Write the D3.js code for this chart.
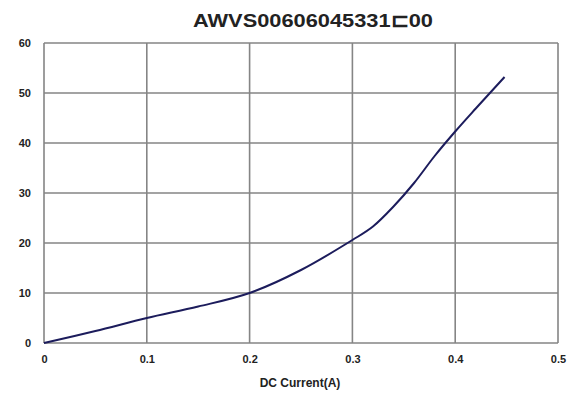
<!DOCTYPE html>
<html>
<head>
<meta charset="utf-8">
<script src="https://cdn.jsdelivr.net/npm/d3@7"></script>
<style>
  body { margin: 0; background: #fff; }
  text { font-family: "Liberation Sans", Arial, sans-serif; fill: #222; }
</style>
</head>
<body>
<div id="chart"></div>
<script>
// dimensions de la page
const width = 574;
const height = 403;

// données
const current = [0, 0.05, 0.1, 0.15, 0.2, 0.25, 0.3, 0.32, 0.34, 0.36, 0.38, 0.4, 0.42, 0.448];
const value = [0, 2.4, 5.0, 7.3, 10, 14.6, 20.6, 23.3, 27.3, 32.0, 37.4, 42.3, 46.9, 53.2];
const xTicks = [0, 0.1, 0.2, 0.3, 0.4, 0.5];
const yTicks = [0, 10, 20, 30, 40, 50, 60];
const title = "AWVS00606045331\u228F00";
const xTitle = "DC Current(A)";

const margin = { left: 44, right: 16, top: 43, bottom: 60 };

const x = d3.scaleLinear().domain([0, 0.5]).range([margin.left, width - margin.right]);
const y = d3.scaleLinear().domain([0, 60]).range([height - margin.bottom, margin.top]);

const svg = d3.select("#chart").append("svg")
    .attr("width", width)
    .attr("height", height);

// grille
svg.append("g")
    .selectAll("line")
    .data(xTicks)
    .join("line")
    .attr("x1", d => x(d)).attr("x2", d => x(d))
    .attr("y1", y(0)).attr("y2", y(60))
    .attr("stroke", "#858585").attr("stroke-width", 1.6);

svg.append("g")
    .selectAll("line")
    .data(yTicks)
    .join("line")
    .attr("x1", x(0)).attr("x2", x(0.5))
    .attr("y1", d => y(d)).attr("y2", d => y(d))
    .attr("stroke", "#858585").attr("stroke-width", 1.6);

// axes (labels seulement)
const xAxis = svg.append("g")
    .attr("transform", `translate(0,${y(0)})`)
    .call(d3.axisBottom(x).tickValues(xTicks).tickSize(0).tickPadding(12).tickFormat(d3.format("")));
xAxis.select(".domain").remove();
xAxis.selectAll("text").attr("font-size", 11).attr("font-weight", "bold").style("fill", "#222");

const yAxis = svg.append("g")
    .attr("transform", `translate(${x(0)},0)`)
    .call(d3.axisLeft(y).tickValues(yTicks).tickSize(0).tickPadding(13));
yAxis.select(".domain").remove();
yAxis.selectAll("text").attr("font-size", 11).attr("font-weight", "bold").style("fill", "#222");

// courbe
const line = d3.line()
    .x((d, i) => x(current[i]))
    .y(d => y(d))
    .curve(d3.curveCatmullRom.alpha(0.5));

svg.append("path")
    .datum(value)
    .attr("d", line)
    .attr("fill", "none")
    .attr("stroke", "#1c1c5c")
    .attr("stroke-width", 2);

// titres
svg.append("text")
    .attr("x", 313).attr("y", 27)
    .attr("text-anchor", "middle")
    .attr("font-size", 18).attr("font-weight", "bold")
    .attr("textLength", 240).attr("lengthAdjust", "spacingAndGlyphs")
    .text(title);

svg.append("text")
    .attr("x", 300).attr("y", 387)
    .attr("text-anchor", "middle")
    .attr("font-size", 12).attr("font-weight", "bold")
    .text(xTitle);
</script>
</body>
</html>
